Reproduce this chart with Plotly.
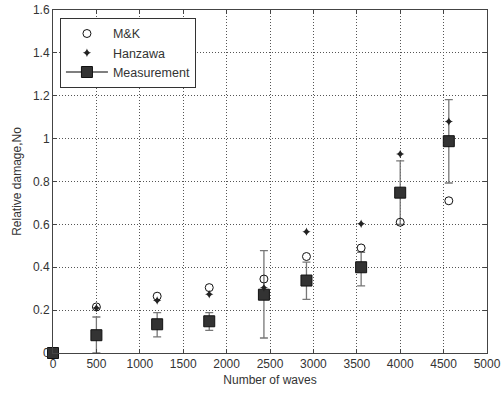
import plotly.graph_objects as go

waves = [0, 500, 1200, 1800, 2430, 2920, 3550, 4000, 4560]
mk = [None, 0.215, 0.265, 0.305, 0.345, 0.45, 0.49, 0.61, 0.71]
hanzawa = [None, 0.21, 0.245, 0.274, 0.305, 0.566, 0.603, 0.928, 1.08]
meas = [0.0, 0.083, 0.134, 0.148, 0.272, 0.338, 0.40, 0.748, 0.988]
meas_hi = [0.0, 0.168, 0.188, 0.188, 0.478, 0.424, 0.47, 0.896, 1.182]
meas_lo = [0.0, 0.0, 0.075, 0.106, 0.07, 0.25, 0.313, 0.60, 0.793]

err_plus = [h - m for h, m in zip(meas_hi, meas)]
err_minus = [m - l for m, l in zip(meas, meas_lo)]

sq_marker = dict(symbol="square", size=11, color="#333333", line=dict(color="#111111", width=1))

fig = go.Figure()
fig.add_trace(go.Scatter(
    x=waves, y=meas, mode="markers", showlegend=False, cliponaxis=False,
    marker=sq_marker,
    error_y=dict(type="data", symmetric=False, array=err_plus, arrayminus=err_minus,
                 color="#777777", thickness=1.3, width=4),
))
fig.add_trace(go.Scatter(
    x=waves, y=mk, mode="markers", name="M&K", cliponaxis=False,
    marker=dict(symbol="circle-open", size=8, color="#111111", line=dict(width=1)),
))
fig.add_trace(go.Scatter(
    x=waves, y=hanzawa, mode="markers", name="Hanzawa", cliponaxis=False,
    marker=dict(symbol="star-diamond", size=6, color="#222222"),
))
fig.add_trace(go.Scatter(
    x=[None], y=[None], mode="lines+markers", name="Measurement",
    line=dict(color="#555555", width=1.3),
    marker=sq_marker,
))

font = "Liberation Sans, Arial, sans-serif"
axis_common = dict(
    showline=True, linecolor="#444444", linewidth=1, mirror="ticks",
    ticks="inside", ticklen=4, tickcolor="#444444",
    showgrid=True, gridcolor="#555555", griddash="1px,2px", gridwidth=1,
    zeroline=False, automargin=False,
    tickfont=dict(family=font, size=12, color="#333333"),
)
fig.update_xaxes(range=[0, 5000], dtick=500, tick0=0,
                 title=dict(text="Number of waves", font=dict(family=font, size=12, color="#333333"), standoff=5),
                 **axis_common)
fig.update_yaxes(range=[0, 1.6], dtick=0.2, tick0=0,
                 title=dict(text="Relative damage,No", font=dict(family=font, size=12, color="#333333"), standoff=8),
                 **axis_common)
fig.update_layout(
    width=502, height=394,
    margin=dict(l=53, r=15, t=10, b=41),
    paper_bgcolor="white", plot_bgcolor="white",
    font=dict(family=font, size=12, color="#333333"),
    legend=dict(x=0.016, y=0.977, xanchor="left", yanchor="top",
                bgcolor="white", bordercolor="#333333", borderwidth=1,
                font=dict(family=font, size=12.5), tracegroupgap=0, itemwidth=42),
)
fig.write_html("out.html", config={"displayModeBar": False},
               post_script="document.body.style.margin='0px';")
